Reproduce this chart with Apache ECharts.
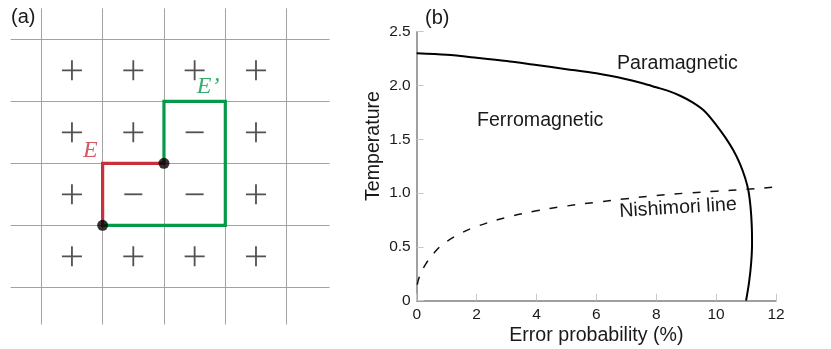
<!DOCTYPE html>
<html>
<head>
<meta charset="utf-8">
<script src="https://cdn.jsdelivr.net/npm/echarts@6/dist/echarts.min.js"></script>
<style>
html,body{margin:0;padding:0;background:#fff;}
#c{width:831px;height:349px;}
</style>
</head>
<body>
<div id="c"></div>
<script>
// ---------- Panel (a): lattice ----------
const gridLinePos = [0, 1, 2, 3, 4];
const latticeXExtent = [-0.5, 4.7];
const latticeYExtent = [-0.5, 4.6];
const signRows = [
  ['+', '+', '+', '+'],
  ['+', '+', '-', '+'],
  ['+', '-', '-', '+'],
  ['+', '+', '+', '+']
];
const pathE = [[1, 3], [1, 2], [2, 2]];
const pathEPrime = [[2, 2], [2, 1], [3, 1], [3, 3], [1, 3]];
const endDots = [[1, 3], [2, 2]];
const pathLabels = [
  { name: 'E', value: [0.80, 1.80] },
  { name: 'E\u2019', value: [2.72, 0.77] }
];

// ---------- Panel (b): phase diagram ----------
const xTicks = [0, 2, 4, 6, 8, 10, 12];
const yTicks = [0, 0.5, 1.0, 1.5, 2.0, 2.5];
const phaseBoundary = [
  [0, 2.30], [1, 2.285], [2, 2.258], [3, 2.228], [4, 2.19], [5, 2.152],
  [6, 2.113], [7, 2.058], [7.6, 2.016], [8, 1.983], [8.4, 1.95], [8.8, 1.905],
  [9.2, 1.845], [9.6, 1.765], [10.0, 1.635], [10.3, 1.52], [10.57, 1.40],
  [10.8, 1.27], [10.97, 1.14], [11.08, 1.02], [11.15, 0.87], [11.19, 0.70],
  [11.2, 0.53], [11.17, 0.35], [11.1, 0.17], [11.0, 0]
];
const nishimoriLine = [
  [0.02, 0.15], [0.1, 0.23], [0.3, 0.34], [0.6, 0.45], [0.9, 0.53],
  [1.5, 0.63], [2, 0.69], [3, 0.775], [4, 0.835], [5, 0.88], [6, 0.915],
  [7, 0.948], [8, 0.978], [9, 1.0], [10, 1.018], [11, 1.035],
  [12, 1.058], [12.6, 1.075]
];

// build derived data
const gridSegs = [];
gridLinePos.forEach(p => {
  gridSegs.push({ coords: [[p, latticeYExtent[0]], [p, latticeYExtent[1]]] });
  gridSegs.push({ coords: [[latticeXExtent[0], p], [latticeXExtent[1], p]] });
});
const plusPts = [], minusPts = [];
signRows.forEach((row, r) => row.forEach((s, c) => {
  (s === '+' ? plusPts : minusPts).push([c + 0.5, r + 0.5]);
}));

const FONT = 'Liberation Sans, Arial, Helvetica, sans-serif';
const chart = echarts.init(document.getElementById('c'), null, { renderer: 'canvas' });

chart.setOption({
  animation: false,
  backgroundColor: '#ffffff',
  grid: [
    { left: 10.6, top: 8.3, width: 319, height: 316.2, containLabel: false, outerBoundsMode: 'none' },
    { left: 416.7, top: 31.7, width: 359.3, height: 269, containLabel: false, outerBoundsMode: 'none' }
  ],
  xAxis: [
    { gridIndex: 0, type: 'value', min: latticeXExtent[0], max: latticeXExtent[1], show: false },
    {
      gridIndex: 1, type: 'value', min: 0, max: 12, interval: 2,
      axisLine: { lineStyle: { color: '#808080', width: 1.5 } },
      axisTick: { inside: true, length: 7, lineStyle: { color: '#c8c8c8', width: 1 } },
      axisLabel: { color: '#1a1a1a', fontFamily: FONT, fontSize: 15.5, margin: 6 },
      splitLine: { show: false },
      name: 'Error probability (%)', nameLocation: 'middle', nameGap: 25, nameMoveOverlap: false,
      nameTextStyle: { color: '#1a1a1a', fontFamily: FONT, fontSize: 19.6 }
    }
  ],
  yAxis: [
    { gridIndex: 0, type: 'value', min: latticeYExtent[0], max: latticeYExtent[1], inverse: true, show: false },
    {
      gridIndex: 1, type: 'value', min: 0, max: 2.5, interval: 0.5,
      axisLine: { show: true, lineStyle: { color: '#808080', width: 1.5 } },
      axisTick: { show: true, inside: true, length: 7, lineStyle: { color: '#c8c8c8', width: 1 } },
      axisLabel: {
        color: '#1a1a1a', fontFamily: FONT, fontSize: 15.5, margin: 6,
        formatter: v => (v === 0 ? '0' : v.toFixed(1))
      },
      splitLine: { show: false }
    }
  ],
  series: [
    {
      type: 'lines', coordinateSystem: 'cartesian2d', xAxisIndex: 0, yAxisIndex: 0,
      data: gridSegs, silent: true, z: 1,
      lineStyle: { color: '#a3a3a3', width: 1, opacity: 1 }
    },
    {
      type: 'scatter', xAxisIndex: 0, yAxisIndex: 0, data: plusPts, z: 2,
      symbol: 'path://M0,9.1h20v1.8h-20zM9.1,0h1.8v20h-1.8z', symbolSize: 20,
      itemStyle: { color: '#262626' }
    },
    {
      type: 'scatter', xAxisIndex: 0, yAxisIndex: 0, data: minusPts, z: 2,
      symbol: 'rect', symbolSize: [18, 1.8],
      itemStyle: { color: '#262626' }
    },
    {
      type: 'line', xAxisIndex: 0, yAxisIndex: 0, data: pathEPrime, z: 3,
      symbol: 'none', lineStyle: { color: '#05994a', width: 3.2, join: 'miter', cap: 'square' }
    },
    {
      type: 'line', xAxisIndex: 0, yAxisIndex: 0, data: pathE, z: 4,
      symbol: 'none', lineStyle: { color: '#c9303c', width: 3.2, join: 'miter', cap: 'square' }
    },
    {
      type: 'scatter', xAxisIndex: 0, yAxisIndex: 0, data: endDots, z: 5,
      symbol: 'circle', symbolSize: 11, itemStyle: { color: '#000' }
    },
    {
      type: 'scatter', xAxisIndex: 0, yAxisIndex: 0, data: pathLabels.slice(0, 1), z: 6,
      symbolSize: 0,
      label: {
        show: true, position: 'inside', formatter: p => p.name,
        fontFamily: 'Liberation Serif, Times New Roman, serif', fontStyle: 'italic',
        fontSize: 24, color: '#c9303c'
      }
    },
    {
      type: 'scatter', xAxisIndex: 0, yAxisIndex: 0, data: pathLabels.slice(1), z: 6,
      symbolSize: 0,
      label: {
        show: true, position: 'inside', formatter: p => p.name,
        fontFamily: 'Liberation Serif, Times New Roman, serif', fontStyle: 'italic',
        fontSize: 24, color: '#05994a'
      }
    },
    {
      type: 'line', xAxisIndex: 1, yAxisIndex: 1, data: phaseBoundary, z: 3,
      smooth: 0.3, symbol: 'none', clip: false,
      lineStyle: { color: '#000', width: 2 }
    },
    {
      type: 'line', xAxisIndex: 1, yAxisIndex: 1, data: nishimoriLine, z: 3,
      smooth: 0.4, symbol: 'none', clip: false,
      lineStyle: { color: '#111', width: 1.5, type: [8, 10] }
    }
  ],
  graphic: [
    { type: 'text', left: 11, top: 7, style: { text: '(a)', font: '20px ' + FONT, fill: '#1a1a1a' } },
    { type: 'text', left: 425, top: 8, style: { text: '(b)', font: '20px ' + FONT, fill: '#1a1a1a' } },
    { type: 'text', x: 617, y: 64, style: { text: 'Paramagnetic', font: '19.6px ' + FONT, fill: '#1a1a1a', textAlign: 'left', textVerticalAlign: 'middle' } },
    { type: 'text', x: 477, y: 121, style: { text: 'Ferromagnetic', font: '19.6px ' + FONT, fill: '#1a1a1a', textAlign: 'left', textVerticalAlign: 'middle' } },
    { type: 'text', x: 678, y: 208, rotation: 3.5 * Math.PI / 180,
      style: { text: 'Nishimori line', font: '19.6px ' + FONT, fill: '#1a1a1a', textAlign: 'center', textVerticalAlign: 'middle' } },
    { type: 'text', x: 374, y: 146, rotation: Math.PI / 2,
      style: { text: 'Temperature', font: '19.6px ' + FONT, fill: '#1a1a1a', textAlign: 'center', textVerticalAlign: 'middle' } }
  ]
});
</script>
</body>
</html>
